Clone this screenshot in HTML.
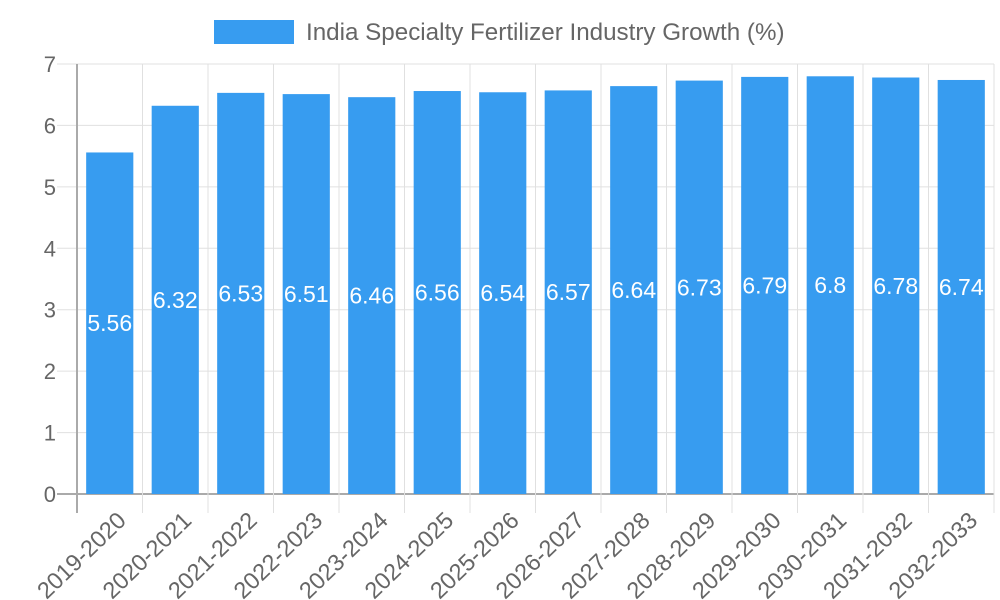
<!DOCTYPE html>
<html><head><meta charset="utf-8"><style>body{margin:0;background:#fff}svg{display:block;font-family:"Liberation Sans",sans-serif}</style></head>
<body>
<svg id="c" width="1000" height="600">
<rect x="214" y="20" width="80" height="24" fill="#379cf0"/>
<text x="306" y="40" font-size="24.2" fill="#666">India Specialty Fertilizer Industry Growth (%)</text>
<g id="g"></g>
</svg>
<script>
const categories=["2019-2020","2020-2021","2021-2022","2022-2023","2023-2024","2024-2025","2025-2026","2026-2027","2027-2028","2028-2029","2029-2030","2030-2031","2031-2032","2032-2033"];
const values=[5.56,6.32,6.53,6.51,6.46,6.56,6.54,6.57,6.64,6.73,6.79,6.8,6.78,6.74];
const yTicks=[0,1,2,3,4,5,6,7];
const X0=77,X1=994,Y0=494,Y1=64,YMAX=7;
const bw=(X1-X0)/categories.length;
const xs=i=>X0+bw*(i+0.5);
const ys=v=>Y0-(Y0-Y1)*v/YMAX;
const g=document.getElementById('g');const NS='http://www.w3.org/2000/svg';
function mk(t,a,p){const e=document.createElementNS(NS,t);for(const k in a)e.setAttribute(k,a[k]);(p||g).appendChild(e);return e;}
yTicks.forEach(t=>{
const l=mk('line',{x1:57,x2:X1,y1:ys(t),y2:ys(t),stroke:t===0?'#aaa':'#e0e0e0','stroke-width':t===0?2:1});


const tx=mk('text',{x:56,y:ys(t)+8,'text-anchor':'end','font-size':22,fill:'#666'});tx.textContent=t;


});
for(let i=0;i<=categories.length;i++){
const x=X0+bw*i;
const l=mk('line',{x1:x,x2:x,y1:Y1,y2:513,stroke:i===0?'#aaa':'#e0e0e0','stroke-width':i===0?2:1});


}
categories.forEach((c,i)=>{
const w=bw*0.72,x=xs(i);
const r=mk('rect',{x:x-w/2,y:ys(values[i]),width:w,height:Y0-ys(values[i]),fill:'#379cf0'});


const v=mk('text',{x:x,y:ys(values[i]/2)+8,'text-anchor':'middle','font-size':23,fill:'#fff'});v.textContent=values[i];


const t=mk('text',{x:x+6,y:510,'text-anchor':'end','font-size':23.5,fill:'#666',transform:`rotate(-44 ${x+6} 510)`,'dominant-baseline':'hanging'});t.textContent=c;


});
</script>
</body></html>
